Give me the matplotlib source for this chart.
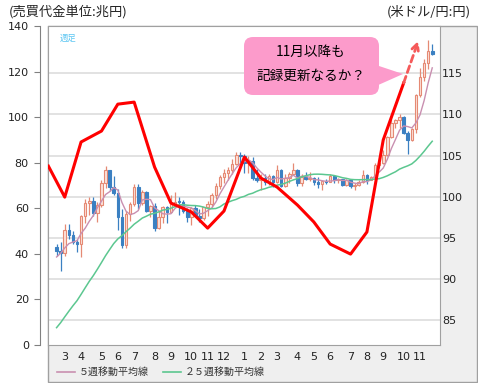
"""Weekly USD/JPY candles with moving averages and monthly trading value."""
import matplotlib
matplotlib.use("Agg")
import matplotlib.pyplot as plt
from matplotlib.lines import Line2D
from matplotlib.patches import FancyBboxPatch, Polygon, Rectangle
import numpy as np
import pandas as pd

plt.rcParams["font.family"] = ["DejaVu Sans", "Noto Sans CJK JP"]

W, H = 478, 383

# month ticks (week index of the first week of each month)
MONTH_WEEKS = [4, 8, 13, 17, 21, 26, 30, 35, 39, 43, 48, 52, 56, 61, 65, 69, 74, 78, 82, 87, 91]
MONTH_LABELS = ["3", "4", "5", "6", "7", "8", "9", "10", "11", "12",
                "1", "2", "3", "4", "5", "6", "7", "8", "9", "10", "11"]

# monthly trading value (left axis, trillion yen), Feb .. Oct
TRADE_WEEKS = [0, 4, 8, 13, 17, 21, 26, 30, 35, 39, 43, 48, 52, 56, 61, 65, 69, 74, 78, 82, 87]
TRADE_VALUE = [78.5, 64.9, 89.1, 93.9, 105.7, 106.6, 78.1, 62.3, 58.4, 51.3, 58.8,
               82.5, 73.3, 69.3, 61.4, 54.0, 44.3, 39.9, 49.6, 90.0, 115.0]
PROJECTED = (90.6, 133.5)  # where the dashed arrow points (Nov)

# weekly USD/JPY candles, weeks 2..94
FIRST_WEEK = 2
FIRST_OPEN = 93.9
CLOSE = [93.4, 93.2, 96.0, 95.3, 94.5, 94.2, 97.6, 99.2, 99.5, 98.0,
         99.0, 101.6, 103.2, 101.2, 100.5, 97.5, 94.1, 97.9, 99.1, 101.2,
         99.2, 100.6, 98.3, 98.9, 96.2, 97.5, 98.7, 98.1, 99.1, 99.4,
         99.35, 98.3, 97.5, 98.6, 97.7, 97.4, 98.7, 99.1, 100.2, 101.3,
         102.4, 102.9, 103.2, 104.0, 105.1, 104.9, 104.1, 104.3, 102.3, 102.0,
         102.3, 101.8, 102.5, 101.8, 103.3, 101.3, 102.3, 102.8, 103.3, 101.6,
         102.4, 102.2, 102.3, 101.8, 101.5, 101.9, 101.8, 102.5, 102.0, 102.1,
         101.4, 102.0, 101.3, 101.4, 101.8, 102.6, 102.0, 102.4, 103.8, 104.1,
         105.1, 107.3, 109.0, 109.3, 109.7, 107.7, 106.9, 108.2, 112.3, 114.6,
         116.3, 117.7, 117.4]
HIGH = [94.3, 94.5, 96.7, 96.7, 95.8, 94.9, 97.8, 99.7, 99.9, 99.9,
        99.3, 102.0, 103.7, 103.3, 102.5, 100.9, 98.5, 98.3, 99.4, 101.5,
        101.5, 100.8, 100.7, 99.0, 99.2, 98.3, 98.9, 98.9, 100.2, 100.6,
        99.9, 99.6, 98.6, 98.8, 99.0, 98.5, 98.8, 99.5, 100.4, 101.6,
        102.6, 103.4, 103.6, 104.6, 105.4, 105.4, 105.2, 104.9, 104.8, 103.4,
        102.7, 102.8, 102.8, 102.6, 103.8, 103.4, 102.7, 103.0, 104.1, 103.4,
        102.7, 103.0, 103.0, 102.4, 102.4, 101.9, 102.1, 102.8, 102.6, 102.3,
        102.1, 102.2, 102.0, 101.6, 102.0, 103.2, 102.8, 102.5, 104.1, 104.5,
        105.7, 107.4, 109.5, 109.5, 110.1, 109.8, 108.0, 108.4, 112.5, 115.6,
        116.7, 119.0, 118.6]
LOW = [92.8, 90.9, 92.8, 94.9, 94.2, 93.3, 92.6, 96.8, 97.8, 97.6,
       96.9, 98.8, 101.0, 100.7, 100.2, 95.9, 93.8, 93.8, 97.0, 98.9,
       98.5, 99.0, 98.1, 97.5, 95.8, 96.1, 96.8, 96.8, 98.0, 98.8,
       97.8, 98.0, 96.9, 96.6, 97.6, 96.9, 97.2, 97.6, 98.8, 99.7,
       100.9, 101.6, 102.0, 102.7, 103.9, 104.1, 102.9, 102.9, 102.0, 101.8,
       100.8, 101.4, 101.4, 101.2, 101.6, 101.2, 101.2, 101.7, 102.6, 101.3,
       101.3, 102.0, 101.9, 101.4, 101.1, 100.8, 101.5, 101.8, 101.6, 101.7,
       101.3, 101.3, 101.1, 100.8, 101.3, 101.7, 101.5, 102.0, 102.3, 103.5,
       104.0, 104.9, 107.1, 108.4, 108.4, 107.6, 105.2, 106.8, 107.7, 112.1,
       114.1, 115.5, 117.2]
# closes of the 24 weeks before the first candle (for the 25-week average)
PRIOR_CLOSE = [78.0, 78.4, 78.2, 77.9, 78.7, 78.4, 79.3, 79.9, 80.4, 79.5, 81.3, 82.4,
               82.5, 82.4, 83.5, 84.2, 85.9, 88.2, 89.2, 90.1, 90.9, 92.8, 92.7, 93.5]

UP_EDGE, UP_FACE = "#e58a74", "#fde2da"
DOWN = "#3b80c2"
MA5_COLOR = "#c98fb0"
MA25_COLOR = "#5cc790"
GRID = "#dddddd"
FRAME = "#a0a0a0"


def px(x, y):
    """Pixel position (from top-left) to inches for dpi_scale_trans."""
    return x / 100, (H - y) / 100


fig = plt.figure(figsize=(W / 100, H / 100), dpi=100)

# grey panel behind axis labels / legend
fig.patches.append(Rectangle((48 / W, 1 - 382 / H), 429 / W, 356 / H,
                             transform=fig.transFigure, facecolor="#efefef",
                             edgecolor=FRAME, lw=1, zorder=0))

ax = fig.add_axes([48 / W, 1 - 345 / H, 392 / W, 319 / H])
ax2 = ax.twinx()
ax.set_zorder(2)
ax.patch.set_visible(False)
ax2.set_zorder(1)
ax2.patch.set_visible(True)
ax2.patch.set_facecolor("white")

# candles on the right (USD/JPY) axis
weeks = np.arange(FIRST_WEEK, FIRST_WEEK + len(CLOSE))
close = np.array(CLOSE)
opens = np.concatenate([[FIRST_OPEN], close[:-1]])
up = close >= opens
for mask, edge, face in [(up, UP_EDGE, UP_FACE), (~up, DOWN, DOWN)]:
    ax2.vlines(weeks[mask], np.array(LOW)[mask], np.array(HIGH)[mask],
               color=edge, lw=0.9, zorder=2)
    lo = np.minimum(opens, close)[mask]
    hi = np.maximum(opens, close)[mask]
    ax2.bar(weeks[mask], np.maximum(hi - lo, 0.08), bottom=lo, width=0.62,
            facecolor=face, edgecolor=edge, lw=0.8, zorder=3)

series = pd.Series(PRIOR_CLOSE + CLOSE)
ma5 = series.rolling(5).mean().to_numpy()[len(PRIOR_CLOSE):]
ma25 = series.rolling(25).mean().to_numpy()[len(PRIOR_CLOSE):]
ax2.plot(weeks, ma5, color=MA5_COLOR, lw=1.0, zorder=4)
ax2.plot(weeks, ma25, color=MA25_COLOR, lw=1.1, zorder=4)

ax2.set_ylim(81.96, 120.75)
ax2.set_yticks([85, 90, 95, 100, 105, 110, 115])
ax2.grid(True, color=GRID, lw=1.2)
ax2.set_axisbelow(True)
ax2.tick_params(axis="y", length=0, pad=1.5, labelsize=8, labelcolor="#222222")
for side in ax2.spines.values():
    side.set_color(FRAME)

# monthly trading value on the left axis
ax.plot(TRADE_WEEKS, TRADE_VALUE, color="red", lw=2.2, zorder=5)
ax.annotate("", xy=PROJECTED, xytext=(TRADE_WEEKS[-1], TRADE_VALUE[-1]),
            arrowprops=dict(arrowstyle="->", color="#f55a5a", lw=2,
                            linestyle=(0, (2.5, 1.5)), mutation_scale=12,
                            shrinkA=0, shrinkB=0), zorder=5)
ax.set_ylim(0, 140)
ax.set_yticks(range(0, 141, 20))
ax.set_xlim(-0.1, 95.9)
ax.set_xticks(MONTH_WEEKS)
ax.set_xticklabels(MONTH_LABELS)
ax.tick_params(axis="x", length=0, pad=5, labelsize=8, labelcolor="#222222")
ax.tick_params(axis="y", length=4, color="#808080", pad=4,
               labelsize=8, labelcolor="#222222")
for name in ["top", "right", "bottom"]:
    ax.spines[name].set_visible(False)
ax.spines["left"].set_position(("outward", 5.8))
ax.spines["left"].set_color("#808080")

ax.text(0.03, 0.975, "週足", transform=ax.transAxes, color="#5cc6f2",
        fontsize=6, va="top", ha="left", family=["Noto Sans CJK JP"])

# headers
fig.text(9 / W, 1 - 12 / H, "(売買代金単位:兆円)", fontsize=9.5, va="center",
         ha="left", color="#222222", family=["Noto Sans CJK JP"])
fig.text(471 / W, 1 - 12 / H, "(米ドル/円:円)", fontsize=9.5, va="center",
         ha="right", color="#222222", family=["Noto Sans CJK JP"])

# callout
fig.patches.append(Polygon([px(376, 65), px(403, 74), px(376, 86)], closed=True,
                           transform=fig.dpi_scale_trans, facecolor="#fc9bcb",
                           edgecolor="none", zorder=6))
fig.patches.append(FancyBboxPatch(px(244, 95), 135 / 100, 58 / 100,
                                  boxstyle="round,pad=0,rounding_size=0.09",
                                  transform=fig.dpi_scale_trans,
                                  facecolor="#fc9bcb", edgecolor="none", zorder=6))
fig.text(311 / W, 1 - 52 / H, "11月以降も", fontsize=9.8, ha="center",
         va="center", family=["Noto Sans CJK JP"], zorder=7)
fig.text(311 / W, 1 - 76 / H, "記録更新なるか？", fontsize=9.8, ha="center",
         va="center", family=["Noto Sans CJK JP"], zorder=7)

# legend
handles = [Line2D([], [], color=MA5_COLOR, lw=1.2),
           Line2D([], [], color=MA25_COLOR, lw=1.2)]
fig.legend(handles, ["５週移動平均線", "２５週移動平均線"], loc="center left",
           bbox_to_anchor=(57 / W, 1 - 372 / H), ncol=2, frameon=False,
           prop={"family": "Noto Sans CJK JP", "size": 7.2},
           handlelength=1.8, handletextpad=0.4, columnspacing=1.4,
           borderpad=0, borderaxespad=0, labelcolor="#333333")

fig.savefig("out.png", dpi=100)
